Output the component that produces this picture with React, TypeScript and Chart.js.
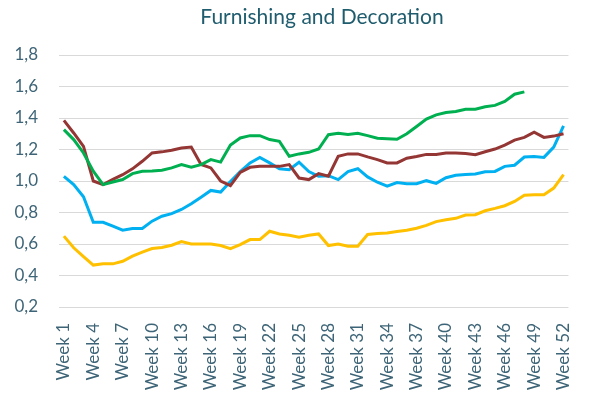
import React, { useEffect, useRef } from "react";
import { Chart, registerables } from "chart.js";

Chart.register(...registerables);

const weeks: string[] = Array.from({ length: 52 }, (_, i) => `Week ${i + 1}`);

const greenValues: (number | null)[] = [
  1.326, 1.263, 1.178, 1.062, 0.977, 0.994, 1.009, 1.047, 1.062, 1.064,
  1.068, 1.083, 1.104, 1.087, 1.104, 1.136, 1.12, 1.228, 1.273, 1.288,
  1.288, 1.263, 1.252, 1.157, 1.172, 1.182, 1.203, 1.294, 1.303, 1.296,
  1.303, 1.288, 1.271, 1.269, 1.265, 1.3, 1.346, 1.393, 1.42, 1.435,
  1.441, 1.456, 1.456, 1.471, 1.48, 1.505, 1.551, 1.566, null, null,
  null, null,
];

const redValues: number[] = [
  1.385, 1.305, 1.22, 1.0, 0.977, 1.01, 1.04, 1.077, 1.125, 1.178,
  1.185, 1.195, 1.21, 1.216, 1.105, 1.083, 1.0, 0.97, 1.055, 1.087,
  1.093, 1.093, 1.093, 1.104, 1.019, 1.009, 1.047, 1.03, 1.157, 1.172,
  1.172, 1.153, 1.136, 1.115, 1.115, 1.145, 1.156, 1.169, 1.169, 1.177,
  1.177, 1.175, 1.167, 1.186, 1.203, 1.228, 1.26, 1.277, 1.31, 1.277,
  1.285, 1.3,
];

const blueValues: number[] = [
  1.03, 0.977, 0.9, 0.738, 0.738, 0.713, 0.688, 0.698, 0.698, 0.745,
  0.776, 0.793, 0.819, 0.855, 0.897, 0.94, 0.93, 0.997, 1.06, 1.115,
  1.15, 1.115, 1.078, 1.072, 1.119, 1.06, 1.03, 1.034, 1.009, 1.06,
  1.078, 1.026, 0.992, 0.967, 0.99, 0.983, 0.983, 1.002, 0.985, 1.021,
  1.036, 1.042, 1.044, 1.059, 1.061, 1.093, 1.1, 1.152, 1.156, 1.15,
  1.215, 1.35,
];

const yellowValues: number[] = [
  0.65, 0.576, 0.52, 0.466, 0.474, 0.474, 0.49, 0.523, 0.548, 0.571,
  0.578, 0.592, 0.616, 0.6, 0.6, 0.6, 0.59, 0.571, 0.596, 0.628,
  0.628, 0.681, 0.664, 0.656, 0.643, 0.656, 0.664, 0.59, 0.6, 0.586,
  0.586, 0.66, 0.666, 0.67, 0.68, 0.687, 0.7, 0.718, 0.742, 0.754,
  0.763, 0.784, 0.786, 0.811, 0.826, 0.843, 0.87, 0.91, 0.913, 0.913,
  0.955, 1.04,
];

const seriesNames: string[] = ["Green", "Red", "Blue", "Yellow"];
const seriesColors: string[] = ["#00B050", "#943634", "#00B0F0", "#FFC000"];

const titleText = "Furnishing and Decoration";
const fontFamily = "Lato, 'Open Sans', sans-serif";

const titlePlugin = {
  id: "customTitle",
  afterDraw(chart: any) {
    const ctx = chart.ctx;
    ctx.save();
    ctx.fillStyle = "#1F5C6E";
    ctx.font = `21px ${fontFamily}`;
    ctx.textAlign = "center";
    ctx.textBaseline = "middle";
    ctx.fillText(titleText, 322, 17);
    ctx.restore();
  },
};

export default function App() {
  const canvasRef = useRef<HTMLCanvasElement | null>(null);

  useEffect(() => {
    if (!canvasRef.current) return;
    const seriesData = [greenValues, redValues, blueValues, yellowValues];
    const chart = new Chart(canvasRef.current, {
      type: "line",
      data: {
        labels: weeks,
        datasets: seriesData.map((d, i) => ({
          label: seriesNames[i],
          data: d,
          borderColor: seriesColors[i],
          backgroundColor: seriesColors[i],
          borderWidth: 3,
          pointRadius: 0,
          tension: 0,
          spanGaps: false,
        })),
      },
      plugins: [titlePlugin],
      options: {
        animation: false,
        responsive: false,
        maintainAspectRatio: false,
        layout: { padding: { left: 0, right: 7, top: 55, bottom: 0 } },
        plugins: {
          legend: { display: false },
          tooltip: { enabled: false },
          title: { display: false },
        },
        scales: {
          x: {
            offset: true,
            grid: { display: false, drawTicks: false },
            border: { display: false },
            ticks: {
              autoSkip: false,
              maxRotation: 90,
              minRotation: 90,
              padding: 16,
              color: "#3E6577",
              font: { family: fontFamily, size: 17 },
              callback: (_v: any, i: number) => (i % 3 === 0 ? weeks[i] : ""),
            },
            afterFit: (scale: any) => {
              scale.height = 94;
            },
          },
          y: {
            min: 0.2,
            max: 1.8,
            grid: { color: "#D9D9D9", lineWidth: 1, drawTicks: false },
            border: { display: false },
            ticks: {
              stepSize: 0.2,
              padding: 21,
              color: "#3E6577",
              font: { family: fontFamily, size: 17 },
              callback: (v: any) => Number(v).toFixed(1).replace(".", ","),
            },
            afterFit: (scale: any) => {
              scale.width = 59;
            },
          },
        },
      },
    });
    return () => chart.destroy();
  }, []);

  return (
    <div style={{ position: "fixed", left: 0, top: 0, width: 600, height: 401, background: "#fff" }}>
      <canvas ref={canvasRef} width={600} height={401} style={{ width: 600, height: 401 }} />
    </div>
  );
}
